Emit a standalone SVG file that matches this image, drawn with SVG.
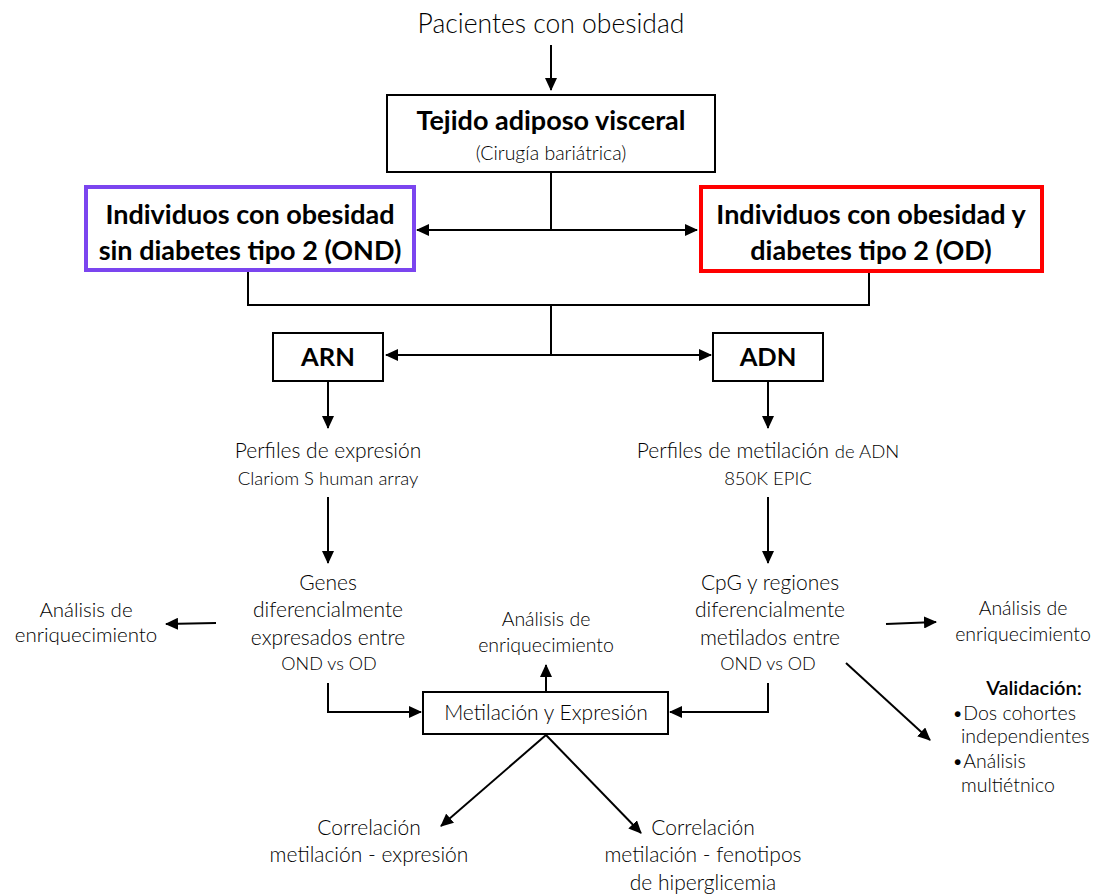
<svg xmlns="http://www.w3.org/2000/svg" width="1097" height="895" viewBox="0 0 1097 895">
<style>
.t{font-family:Lato,"Open Sans",sans-serif;font-weight:300;fill:#000;text-anchor:middle}
.s{text-anchor:start}
.b{font-family:Lato,"Open Sans",sans-serif;font-weight:700;fill:#000;text-anchor:middle}
.box{fill:#fff;stroke:#000;stroke-width:2}
.c{fill:none;stroke:#000;stroke-width:2}
</style>
<defs>
<marker id="ah" markerUnits="userSpaceOnUse" markerWidth="14" markerHeight="12" refX="12" refY="6" orient="auto-start-reverse">
<path d="M0,0 L13,6 L0,12 Z" fill="#000"/>
</marker>
</defs>
<g id="connectors">
<path class="c" d="M551,45 V90" marker-end="url(#ah)"/>
<path class="c" d="M551,172 V230"/>
<path class="c" d="M417,230 H697" marker-start="url(#ah)" marker-end="url(#ah)"/>
<path class="c" d="M248,270 V305 H869 V271"/>
<path class="c" d="M551,305 V355"/>
<path class="c" d="M386,355 H711" marker-start="url(#ah)" marker-end="url(#ah)"/>
<path class="c" d="M328,381 V428" marker-end="url(#ah)"/>
<path class="c" d="M768,381 V428" marker-end="url(#ah)"/>
<path class="c" d="M328,497 V563" marker-end="url(#ah)"/>
<path class="c" d="M768,497 V563" marker-end="url(#ah)"/>
<path class="c" d="M216,623 L166,624" marker-end="url(#ah)"/>
<path class="c" d="M886,624 L936,622" marker-end="url(#ah)"/>
<path class="c" d="M546,692 V665" marker-end="url(#ah)"/>
<path class="c" d="M328,683 V712 H421" marker-end="url(#ah)"/>
<path class="c" d="M768,683 V712 H670" marker-end="url(#ah)"/>
<path class="c" d="M846,663 L930,740" marker-end="url(#ah)"/>
<path class="c" d="M546,735 L441,826" marker-end="url(#ah)"/>
<path class="c" d="M546,735 L641,833" marker-end="url(#ah)"/>
</g>
<g id="pacientes">
<text class="t" x="551" y="33" font-size="26.5">Pacientes con obesidad</text>
</g>
<g id="tejido">
<rect class="box" x="387" y="95" width="328" height="77"/>
<text class="b" x="551" y="130" font-size="27">Tejido adiposo visceral</text>
<text class="t" x="551" y="160" font-size="19.5">(Cirugía bariátrica)</text>
</g>
<g id="ond">
<rect x="86" y="187" width="328" height="83" fill="#fff" stroke="#7b45ef" stroke-width="4"/>
<text class="b" x="250" y="224" font-size="27">Individuos con obesidad</text>
<text class="b" x="250" y="260" font-size="27">sin diabetes tipo 2 (OND)</text>
</g>
<g id="od">
<rect x="701" y="187" width="341" height="84" fill="#fff" stroke="#ff0000" stroke-width="4"/>
<text class="b" x="871" y="224" font-size="27">Individuos con obesidad y</text>
<text class="b" x="871" y="260" font-size="27">diabetes tipo 2 (OD)</text>
</g>
<g id="arn">
<rect class="box" x="273" y="333" width="110" height="48"/>
<text class="b" x="328" y="366" font-size="25.5">ARN</text>
</g>
<g id="adn">
<rect class="box" x="713" y="333" width="110" height="48"/>
<text class="b" x="768" y="366" font-size="25.5">ADN</text>
</g>
<g id="perfiles-expresion">
<text class="t" x="328" y="458" font-size="21">Perfiles de expresión</text>
<text class="t" x="328" y="485" font-size="18.5">Clariom S human array</text>
</g>
<g id="perfiles-metilacion">
<text class="t" x="768" y="458" font-size="21">Perfiles de metilación <tspan font-size="18.5">de ADN</tspan></text>
<text class="t" x="768" y="485" font-size="18.5">850K EPIC</text>
</g>
<g id="genes">
<text class="t" x="328" y="590" font-size="21">Genes</text>
<text class="t" x="328" y="617" font-size="21">diferencialmente</text>
<text class="t" x="328" y="645" font-size="21">expresados entre</text>
<text class="t" x="329" y="670" font-size="18">OND vs OD</text>
</g>
<g id="cpg">
<text class="t" x="770" y="590" font-size="21">CpG y regiones</text>
<text class="t" x="770" y="617" font-size="21">diferencialmente</text>
<text class="t" x="770" y="645" font-size="21">metilados entre</text>
<text class="t" x="768" y="670" font-size="18">OND vs OD</text>
</g>
<g id="enriq-left">
<text class="t" x="86" y="617" font-size="20.5">Análisis de</text>
<text class="t" x="86" y="642" font-size="20.5">enriquecimiento</text>
</g>
<g id="enriq-mid">
<text class="t" x="546" y="626" font-size="19.5">Análisis de</text>
<text class="t" x="546" y="652" font-size="19.5">enriquecimiento</text>
</g>
<g id="enriq-right">
<text class="t" x="1023" y="615" font-size="19.5">Análisis de</text>
<text class="t" x="1023" y="641" font-size="19.5">enriquecimiento</text>
</g>
<g id="metil-expr">
<rect class="box" x="423" y="692" width="245" height="42"/>
<text class="t" x="546" y="720" font-size="21">Metilación y Expresión</text>
</g>
<g id="validacion">
<text class="t" x="1034" y="695" font-size="20" style="font-weight:600">Validación:</text>
<text class="t s" x="952" y="720" font-size="19.5">•Dos cohortes</text>
<text class="t s" x="961" y="743" font-size="19.5">independientes</text>
<text class="t s" x="952" y="768" font-size="19.5">•Análisis</text>
<text class="t s" x="961" y="792" font-size="19.5">multiétnico</text>
</g>
<g id="corr-expr">
<text class="t" x="369" y="835" font-size="21">Correlación</text>
<text class="t" x="369" y="862" font-size="21">metilación - expresión</text>
</g>
<g id="corr-feno">
<text class="t" x="703" y="835" font-size="21">Correlación</text>
<text class="t" x="703" y="862" font-size="21">metilación - fenotipos</text>
<text class="t" x="703" y="890" font-size="21">de hiperglicemia</text>
</g>
</svg>
